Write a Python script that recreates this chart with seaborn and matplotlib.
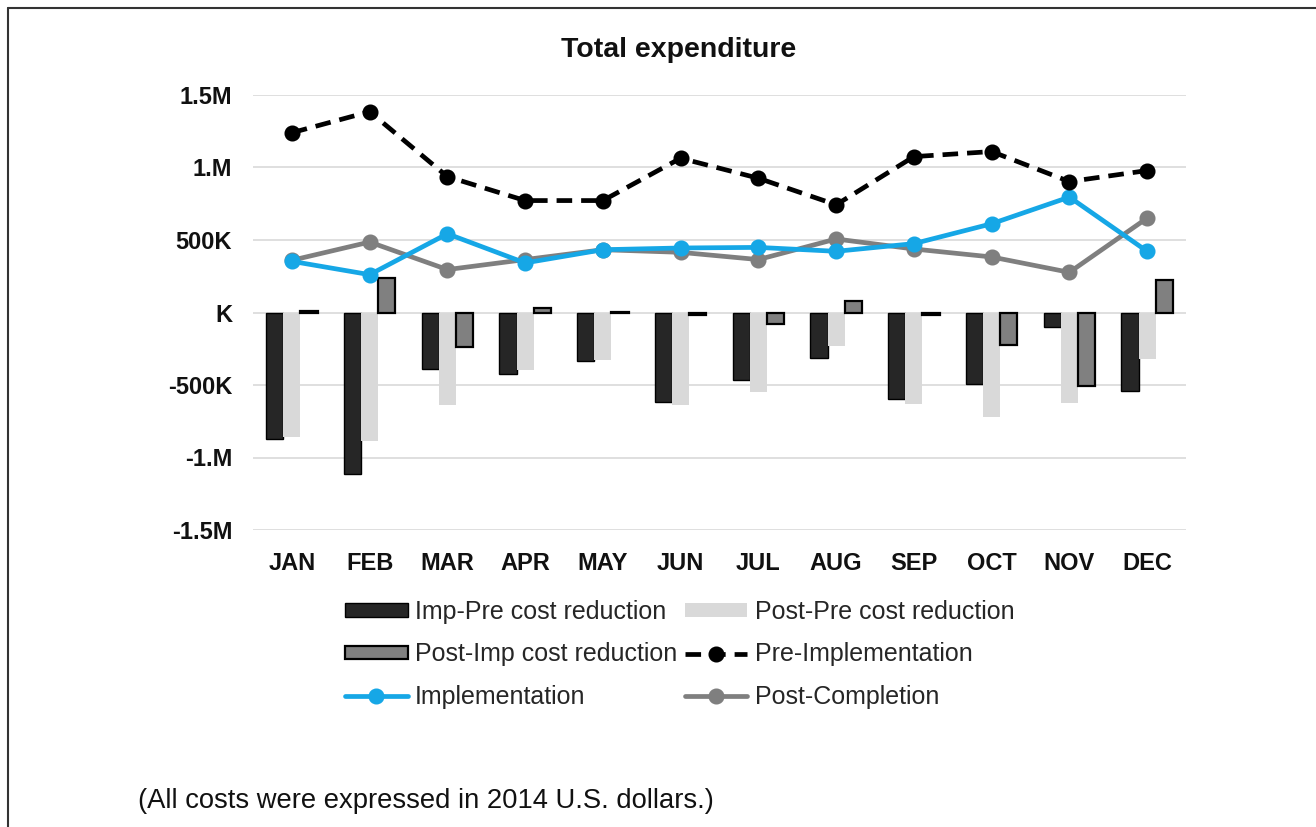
"""
Total expenditure: monthly cost-reduction bars with pre/imp/post lines.
"""

import matplotlib
matplotlib.use("Agg")

import matplotlib.pyplot as plt
import pandas as pd
import seaborn as sns
from matplotlib.lines import Line2D

# --- data ---
months = ["JAN", "FEB", "MAR", "APR", "MAY", "JUN",
          "JUL", "AUG", "SEP", "OCT", "NOV", "DEC"]

imp_pre_reduction = [-873e3, -1114e3, -392e3, -426e3, -337e3, -617e3,
                     -465e3, -312e3, -594e3, -490e3, -101e3, -543e3]
post_pre_reduction = [-862e3, -889e3, -635e3, -397e3, -330e3, -640e3,
                      -548e3, -232e3, -633e3, -720e3, -621e3, -323e3]
post_imp_reduction = [8e3, 239e3, -236e3, 32e3, 6e3, -20e3,
                      -80e3, 80e3, -20e3, -227e3, -507e3, 227e3]

pre_implementation = [1240e3, 1385e3, 937e3, 772e3, 772e3, 1064e3,
                      926e3, 743e3, 1075e3, 1110e3, 903e3, 979e3]
implementation = [353e3, 261e3, 543e3, 342e3, 433e3, 445e3,
                  449e3, 422e3, 475e3, 612e3, 796e3, 422e3]
post_completion = [360e3, 486e3, 296e3, 365e3, 433e3, 415e3,
                   365e3, 507e3, 438e3, 383e3, 277e3, 651e3]

ytick_values = [-1.5e6, -1e6, -5e5, 0, 5e5, 1e6, 1.5e6]
ytick_labels = ["-1.5M", "-1.M", "-500K", "K", "500K", "1.M", "1.5M"]

bar_series = ["Imp-Pre cost reduction", "Post-Pre cost reduction",
              "Post-Imp cost reduction"]
bar_colors = ["#262626", "#d9d9d9", "#808080"]

bars_df = pd.DataFrame({
    "month": months * 3,
    "value": imp_pre_reduction + post_pre_reduction + post_imp_reduction,
    "series": [s for s in bar_series for _ in months],
})

# --- style ---
sns.set_theme(style="white")
plt.rcParams["font.family"] = ["Liberation Sans", "DejaVu Sans"]

W, H = 1316, 827
fig = plt.figure(figsize=(W / 100, H / 100), dpi=100)
ax = fig.add_axes([253 / W, 1 - 530 / H, (1186 - 253) / W, (530 - 95) / H])

sns.barplot(data=bars_df, x="month", y="value", hue="series",
            hue_order=bar_series, palette=bar_colors, saturation=1,
            width=0.66, gap=0, legend=False, ax=ax, zorder=2)

# edges: dark bar and Post-Imp bar get a black outline
for cont, ec, lw in zip(ax.containers, ["black", "none", "black"], [1.0, 0, 1.6]):
    for p in cont:
        p.set_edgecolor(ec)
        p.set_linewidth(lw)

n0 = len(ax.lines)
sns.pointplot(x=months, y=pre_implementation, color="black", markers="o",
              linestyles="--", errorbar=None, markersize=9, linewidth=3.4,
              ax=ax, zorder=4)
line_pre = ax.lines[n0]
line_pre.set_dashes([3.3, 1.9])

n0 = len(ax.lines)
sns.pointplot(x=months, y=post_completion, color="#7f7f7f", markers="o",
              errorbar=None, markersize=9, linewidth=3.4, ax=ax, zorder=3)
line_post = ax.lines[n0]

n0 = len(ax.lines)
sns.pointplot(x=months, y=implementation, color="#16a7e6", markers="o",
              errorbar=None, markersize=9, linewidth=3.4, ax=ax, zorder=3)
line_impl = ax.lines[n0]

# --- axes ---
ax.set_xlim(-0.5, 11.5)
ax.set_ylim(-1.5e6, 1.5e6)
ax.set_yticks(ytick_values, ytick_labels)
ax.set_xticks(range(len(months)), months)
ax.set_xlabel("")
ax.set_ylabel("")
ax.grid(axis="y", color="#d9d9d9", linewidth=1.2, zorder=0)
ax.set_axisbelow(True)
for s in ax.spines.values():
    s.set_visible(False)
ax.tick_params(axis="y", length=0, pad=15, labelsize=17)
ax.tick_params(axis="x", length=0, pad=16, labelsize=17)
for lab in ax.get_xticklabels() + ax.get_yticklabels():
    lab.set_fontweight("bold")
    lab.set_color("#111111")

# --- legend (column-major for ncol=2) ---
handles = [ax.containers[0], ax.containers[2], line_impl,
           ax.containers[1], line_pre, line_post]
labels = ["Imp-Pre cost reduction", "Post-Imp cost reduction", "Implementation",
          "Post-Pre cost reduction", "Pre-Implementation", "Post-Completion"]
fig.legend(handles, labels, ncol=2, loc="upper left",
           bbox_to_anchor=(345 / W, 1 - 600 / H), frameon=False,
           fontsize=18, handlelength=2.5, handleheight=0.45,
           handletextpad=0.3, columnspacing=0.3, labelspacing=0.74,
           borderpad=0, borderaxespad=0)

# --- title and note ---
fig.text(679 / W, 1 - 57 / H, "Total expenditure", ha="center",
         va="baseline", fontsize=20.5, fontweight="bold", color="#111111")
fig.text(138 / W, 1 - 808 / H, "(All costs were expressed in 2014 U.S. dollars.)",
         ha="left", va="baseline", fontsize=19.7, color="#111111")

# thin frame on top and left edges
fig.add_artist(Line2D([8 / W, 1], [1 - 8 / H, 1 - 8 / H],
                      transform=fig.transFigure, color="#333333", lw=1.5))
fig.add_artist(Line2D([8 / W, 8 / W], [0, 1 - 8 / H],
                      transform=fig.transFigure, color="#333333", lw=1.5))

fig.savefig("out.png", dpi=100)
